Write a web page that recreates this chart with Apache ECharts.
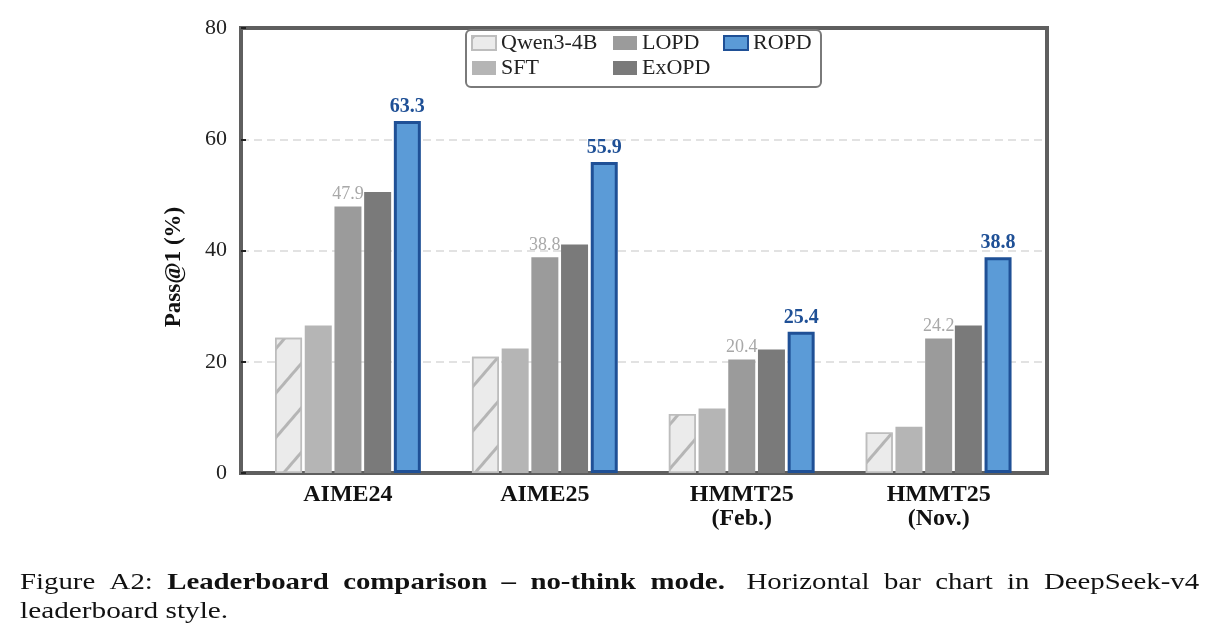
<!DOCTYPE html>
<html>
<head>
<meta charset="utf-8">
<script src="https://cdn.jsdelivr.net/npm/echarts@6/dist/echarts.min.js"></script>
<style>
  html, body { margin: 0; padding: 0; background: #fff; }
  #chart { width: 1218px; height: 644px; }
</style>
</head>
<body>
<div id="chart"></div>
<script>
const categories = ['AIME24', 'AIME25', 'HMMT25\n(Feb.)', 'HMMT25\n(Nov.)'];
const qwen = [24.3, 20.9, 10.6, 7.3];
const sft = [26.5, 22.4, 11.6, 8.3];
const lopd = [47.9, 38.8, 20.4, 24.2];
const exopd = [50.5, 41.1, 22.2, 26.5];
const ropd = [63.3, 55.9, 25.4, 38.8];

const serif = '"Liberation Serif", "DejaVu Serif", serif';
const blue = '#1f5096';

const chart = echarts.init(document.getElementById('chart'));

const barBase = {
  type: 'bar',
  xAxisIndex: 1,
  yAxisIndex: 1,
  barWidth: 27,
  barGap: '10%'
};

const legendBase = {
  orient: 'vertical',
  top: 32,
  padding: 0,
  icon: 'rect',
  itemWidth: 24, itemHeight: 14, itemGap: 3,
  textStyle: { fontFamily: serif, fontSize: 22, color: '#222' }
};

const option = {
  backgroundColor: '#fff',
  animation: false,
  grid: [{
    left: 241, right: 171, top: 28, bottom: 171,
    show: true,
    borderColor: '#5f5f5f',
    borderWidth: 4
  }, {
    left: 249.5, right: 180.9, top: 28, bottom: 171
  }],
  xAxis: [{
    type: 'value', gridIndex: 0, min: 0, max: 1, show: false
  }, {
    type: 'category',
    gridIndex: 1,
    data: categories,
    axisLine: { show: false },
    axisTick: { show: false },
    axisLabel: {
      margin: 10,
      color: '#111',
      fontFamily: serif,
      fontWeight: 'bold',
      fontSize: 24,
      lineHeight: 24
    }
  }],
  yAxis: [{
    type: 'value',
    gridIndex: 0,
    min: 0,
    max: 80,
    interval: 20,
    axisLine: { show: false },
    axisTick: { show: true, inside: true, length: 5, lineStyle: { color: '#222', width: 2 } },
    splitLine: {
      showMinLine: false,
      showMaxLine: false,
      lineStyle: { color: '#d9d9d9', type: [8, 5], width: 1.5 }
    },
    axisLabel: { color: '#222', fontFamily: serif, fontSize: 22, margin: 14 }
  }, {
    type: 'value', gridIndex: 1, min: 0, max: 80, show: false
  }],
  legend: [
    Object.assign({}, legendBase, { data: ['Qwen3-4B', 'SFT'], left: 471 }),
    Object.assign({}, legendBase, { data: ['LOPD', 'ExOPD'], left: 613 }),
    Object.assign({}, legendBase, { data: ['ROPD'], left: 723 })
  ],
  graphic: [{
    type: 'rect',
    z: 1,
    shape: { x: 466, y: 30, width: 355, height: 57, r: 5 },
    style: { fill: '#fff', stroke: '#7a7a7a', lineWidth: 2 }
  }, {
    type: 'text',
    x: 174, y: 267,
    rotation: Math.PI / 2,
    style: {
      text: 'Pass@1 (%)',
      fontFamily: serif, fontWeight: 'bold', fontSize: 23, fill: '#111',
      align: 'center', verticalAlign: 'middle'
    }
  }, {
    type: 'text',
    x: 20, y: 568,
    scaleX: 1.2,
    style: {
      text: '{n|Figure  A2:  }{b|Leaderboard  comparison  –  no-think  mode.}{n|   Horizontal  bar  chart  in  DeepSeek-v4}',
      rich: {
        n: { fontFamily: serif, fontSize: 24, lineHeight: 29, fill: '#111' },
        b: { fontFamily: serif, fontSize: 24, lineHeight: 29, fontWeight: 'bold', fill: '#111' }
      }
    }
  }, {
    type: 'text',
    x: 20, y: 597,
    scaleX: 1.22,
    style: {
      text: 'leaderboard style.',
      fontFamily: serif, fontSize: 24, lineHeight: 29, fill: '#111'
    }
  }],
  series: [Object.assign({}, barBase, {
    name: 'Qwen3-4B',
    data: qwen,
    itemStyle: {
      color: '#ebebeb',
      borderColor: '#bdbdbd',
      borderWidth: 1.5,
      decal: {
        symbol: 'rect',
        symbolSize: 1,
        color: '#b5b5b5',
        dashArrayX: [1, 0],
        dashArrayY: [2.5, 26],
        rotation: -0.86
      }
    }
  }), Object.assign({}, barBase, {
    name: 'SFT',
    data: sft,
    itemStyle: { color: '#b5b5b5' }
  }), Object.assign({}, barBase, {
    name: 'LOPD',
    data: lopd,
    itemStyle: { color: '#9b9b9b' },
    label: {
      show: true, position: 'top', distance: 3,
      color: '#a8a8a8', fontFamily: serif, fontSize: 18
    }
  }), Object.assign({}, barBase, {
    name: 'ExOPD',
    data: exopd,
    itemStyle: { color: '#7a7a7a' }
  }), Object.assign({}, barBase, {
    name: 'ROPD',
    data: ropd,
    itemStyle: { color: '#5b9bd7', borderColor: blue, borderWidth: 3 },
    label: {
      show: true, position: 'top', distance: 4,
      color: blue, fontFamily: serif, fontWeight: 'bold', fontSize: 20
    }
  })]
};

chart.setOption(option);
</script>
</body>
</html>
